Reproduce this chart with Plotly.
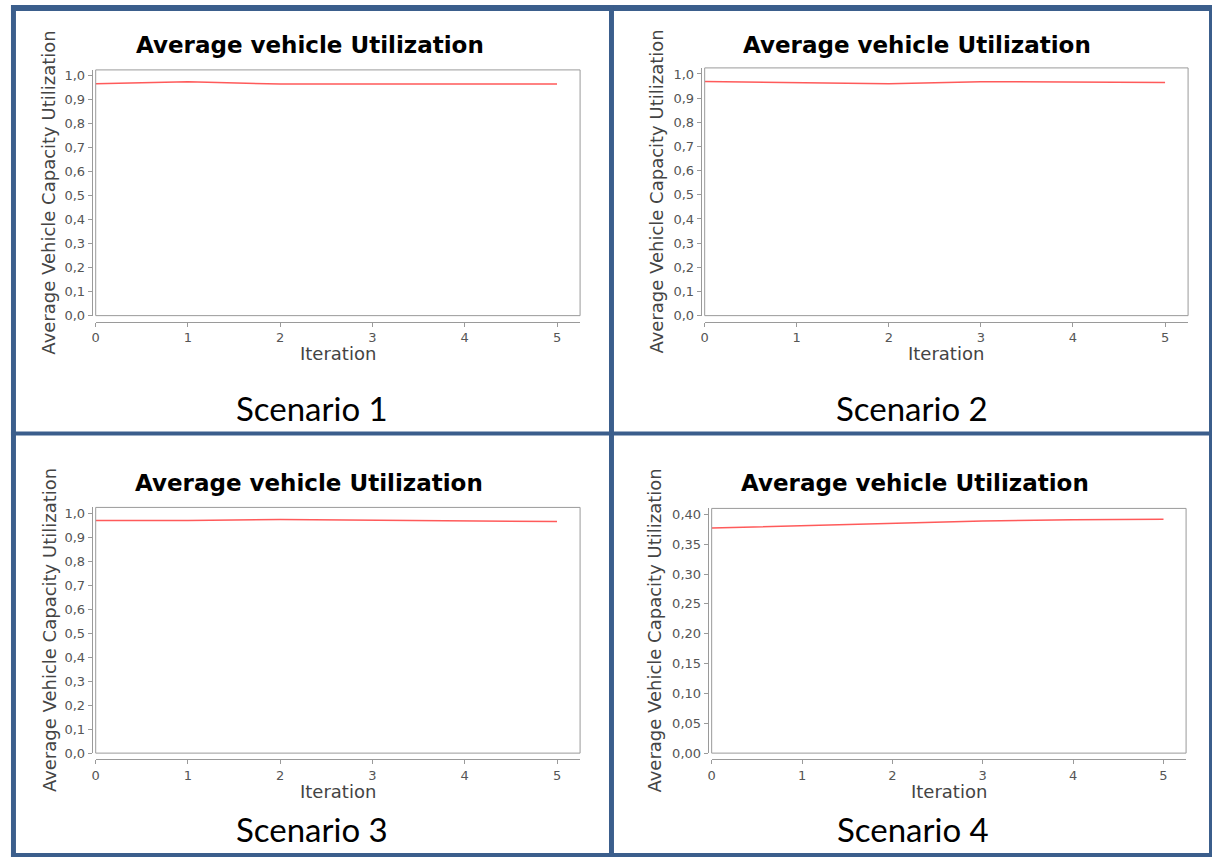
import plotly.graph_objects as go

W, H = 1212, 857
HF = 865  # figure height used to compensate the capture's vertical fit

iterations = [0, 1, 2, 3, 4, 5]
scenario1 = [0.967, 0.976, 0.966, 0.966, 0.966, 0.966]
scenario2 = [0.969, 0.964, 0.960, 0.968, 0.965, 0.965]
scenario3 = [0.970, 0.970, 0.975, 0.971, 0.970, 0.966]
scenario4 = [0.377, 0.381, 0.386, 0.389, 0.391, 0.392]

chart_title = "Average vehicle Utilization"
y_title = "Average Vehicle Capacity Utilization"
x_title = "Iteration"
scenario_labels = ["Scenario 1", "Scenario 2", "Scenario 3", "Scenario 4"]
series = [scenario1, scenario2, scenario3, scenario4]

panels = [
    dict(box=(92, 578, 69, 315), yl=88, xl=321, yr=[0, 1.025], dt=0.1, fmt=".1f",
         tx=307, ty=44, ytx=45, xty=353, sx=309, sy=407),
    dict(box=(703, 1188, 67, 315), yl=699, xl=321, yr=[0, 1.025], dt=0.1, fmt=".1f",
         tx=916, ty=44, ytx=655, xty=353, sx=911, sy=407),
    dict(box=(92, 578, 507, 753), yl=88, xl=759, yr=[0, 1.025], dt=0.1, fmt=".1f",
         tx=306, ty=483, ytx=45, xty=791, sx=309, sy=829),
    dict(box=(710, 1186, 508, 753), yl=706, xl=759, yr=[0, 0.41], dt=0.05, fmt=".2f",
         tx=914, ty=483, ytx=653, xty=791, sx=912, sy=829),
]

def px(x):
    return x / W

def py(y):
    return 1 - y / H

fig = go.Figure()
layout = dict(
    width=W, height=HF, margin=dict(l=0, r=0, t=0, b=0),
    paper_bgcolor="white", plot_bgcolor="white", showlegend=False,
    separators=",.",
    font=dict(family="DejaVu Sans", color="#444"),
)
shapes = []
annotations = []
axis_grey = "#9a9a9a"
tick_font = dict(family="DejaVu Sans", size=13, color="#555")

def ann(text, x, y, font, angle=0):
    return dict(text=text, x=px(x), y=py(y), xref="paper", yref="paper",
                xanchor="center", yanchor="middle", showarrow=False,
                textangle=angle, font=font)

for i, (p, vals, lab) in enumerate(zip(panels, series, scenario_labels)):
    n = "" if i == 0 else str(i + 1)
    x0, x1, yt, yb = p["box"]
    fig.add_trace(go.Scatter(
        x=iterations, y=vals, mode="lines",
        line=dict(color="rgb(255,90,90)", width=1.5),
        xaxis="x" + n, yaxis="y" + n, hoverinfo="skip"))
    layout["xaxis" + n] = dict(
        domain=[px(x0), px(x1)], range=[0, 5.25], anchor="free",
        position=py(p["xl"]), showline=True, linecolor=axis_grey, linewidth=1,
        ticks="outside", ticklen=4, tickcolor=axis_grey, dtick=1, tick0=0,
        showgrid=False, zeroline=False, tickfont=tick_font, fixedrange=True)
    layout["yaxis" + n] = dict(
        domain=[py(yb), py(yt)], range=p["yr"], anchor="free",
        position=px(p["yl"]), showline=True, linecolor=axis_grey, linewidth=1,
        ticks="outside", ticklen=4, tickcolor=axis_grey, dtick=p["dt"], tick0=0,
        tickformat=p["fmt"], showgrid=False, zeroline=False, tickfont=tick_font,
        fixedrange=True)
    shapes.append(dict(type="rect", xref="paper", yref="paper",
                       x0=px(x0), x1=px(x1), y0=py(yb), y1=py(yt),
                       line=dict(color=axis_grey, width=1), fillcolor="rgba(0,0,0,0)",
                       layer="above"))
    annotations.append(ann("<b>" + chart_title + "</b>", p["tx"], p["ty"],
                           dict(family="DejaVu Sans", size=23, color="black")))
    annotations.append(ann(y_title, p["ytx"], (yt + yb) / 2,
                           dict(family="DejaVu Sans", size=18, color="#444"), -90))
    annotations.append(ann(x_title, (x0 + x1) / 2, p["xty"],
                           dict(family="DejaVu Sans", size=18, color="#444")))
    annotations.append(ann(lab, p["sx"], p["sy"],
                           dict(family="Lato", size=33, color="black")))

blue = "#3B5E8C"
frame = [
    (7, 12, 4, 857),
    (7, 1212, 4, 10),
    (1209, 1212, 4, 857),
    (7, 1212, 853, 857),
    (607, 612, 4, 857),
    (7, 1212, 431, 435),
]
for fx0, fx1, fy0, fy1 in frame:
    shapes.append(dict(type="rect", xref="paper", yref="paper",
                       x0=px(fx0), x1=px(fx1), y0=py(fy1), y1=py(fy0),
                       line=dict(width=0), fillcolor=blue, layer="above"))

layout["shapes"] = shapes
layout["annotations"] = annotations
fig.update_layout(**layout)

post = """
document.documentElement.style.margin='0';
document.documentElement.style.overflow='hidden';
document.body.style.margin='0';
document.body.style.overflow='hidden';
var gd = document.getElementById('{plot_id}');
gd.style.display='block';
var sc = gd.querySelector('.svg-container');
if (sc) { sc.style.display='block'; }
"""
fig.write_html("out.html", config={"displayModeBar": False}, post_script=post)
